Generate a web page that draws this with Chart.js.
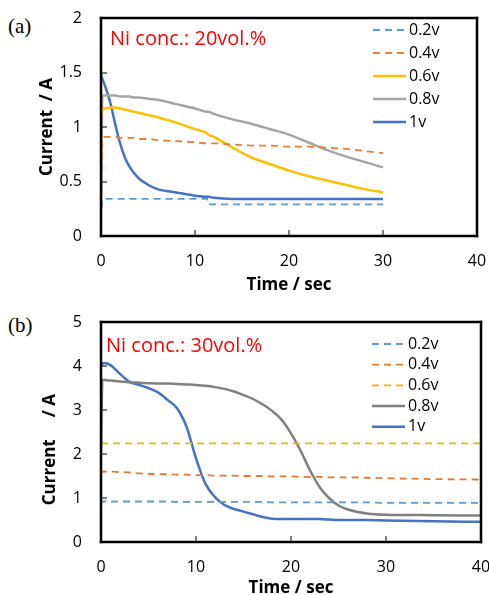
<!DOCTYPE html>
<html>
<head>
<meta charset="utf-8">
<script src="https://cdn.jsdelivr.net/npm/chart.js@4.4.1/dist/chart.umd.min.js"></script>
<style>
  html, body { margin: 0; padding: 0; background: #ffffff; overflow: hidden; width: 489px; height: 595px; }
  canvas { position: absolute; left: 0; }
  #chartA { top: 0; }
  #chartB { top: 298px; }
  .tag { position: absolute; left: 8px; font: 21px "Liberation Serif", serif; line-height: 22px; color: #000000; }
</style>
</head>
<body>
<div class="tag" style="top:15px">(a)</div>
<div class="tag" style="top:314px">(b)</div>
<canvas id="chartA" width="489" height="295"></canvas>
<canvas id="chartB" width="489" height="300"></canvas>
<script>
Chart.defaults.font.family = '"Open Sans", sans-serif';
Chart.defaults.color = "#000000";

const ink = "#000000";
const seriesNames = ["0.2v", "0.4v", "0.6v", "0.8v", "1v"];

// (a) Ni 20vol.%
const timeA = [0, 0.15, 0.5, 1, 1.5, 2, 2.5, 3, 3.5, 4, 5, 6, 8, 10, 11.3, 11.4, 12, 14, 16, 18, 20, 22, 24, 26, 28, 30];
const v02a = [0.15, 0.34, 0.34, 0.34, 0.34, 0.34, 0.34, 0.34, 0.34, 0.34, 0.34, 0.34, 0.34, 0.34, 0.34, 0.29, 0.29, 0.29, 0.29, 0.29, 0.29, 0.29, 0.29, 0.29, 0.29, 0.29];
const v04a = [0.15, 0.91, 0.91, 0.91, 0.91, 0.90, 0.90, 0.90, 0.90, 0.89, 0.89, 0.88, 0.87, 0.86, 0.85, 0.85, 0.85, 0.84, 0.83, 0.83, 0.82, 0.82, 0.81, 0.80, 0.78, 0.76];
const v06a = [1.10, 1.16, 1.17, 1.18, 1.18, 1.17, 1.16, 1.15, 1.14, 1.13, 1.11, 1.09, 1.04, 0.98, 0.94, 0.93, 0.91, 0.81, 0.72, 0.66, 0.60, 0.55, 0.51, 0.47, 0.43, 0.40];
const v08a = [0.30, 1.29, 1.29, 1.29, 1.29, 1.28, 1.28, 1.28, 1.27, 1.27, 1.26, 1.25, 1.21, 1.17, 1.14, 1.14, 1.12, 1.07, 1.03, 0.98, 0.93, 0.86, 0.79, 0.73, 0.68, 0.63];
const v1a  = [1.48, 1.44, 1.36, 1.22, 1.03, 0.86, 0.73, 0.64, 0.58, 0.53, 0.47, 0.43, 0.40, 0.37, 0.36, 0.36, 0.35, 0.34, 0.34, 0.34, 0.34, 0.34, 0.34, 0.34, 0.34, 0.34];

// (b) Ni 30vol.%
const timeB = [0, 0.15, 0.5, 1, 2, 3, 4, 5, 6, 7, 8, 9, 10, 11, 12, 13, 14, 15, 16, 17, 18, 19, 20, 21, 22, 23, 24, 25, 26, 28, 30, 35, 40];
const v02b = [0.85, 0.92, 0.92, 0.92, 0.92, 0.92, 0.92, 0.92, 0.92, 0.92, 0.91, 0.91, 0.91, 0.91, 0.91, 0.91, 0.91, 0.91, 0.91, 0.91, 0.90, 0.90, 0.90, 0.90, 0.90, 0.90, 0.90, 0.90, 0.90, 0.90, 0.89, 0.89, 0.89];
const v04b = [1.55, 1.60, 1.60, 1.60, 1.59, 1.58, 1.56, 1.55, 1.54, 1.54, 1.53, 1.53, 1.52, 1.52, 1.51, 1.51, 1.51, 1.50, 1.50, 1.50, 1.49, 1.49, 1.49, 1.48, 1.48, 1.48, 1.47, 1.47, 1.47, 1.46, 1.45, 1.43, 1.42];
const v06b = [2.24, 2.24, 2.24, 2.24, 2.24, 2.24, 2.24, 2.24, 2.24, 2.24, 2.24, 2.24, 2.24, 2.24, 2.24, 2.24, 2.24, 2.24, 2.24, 2.24, 2.24, 2.24, 2.24, 2.24, 2.24, 2.24, 2.24, 2.24, 2.24, 2.24, 2.24, 2.24, 2.24];
const v08b = [2.05, 3.69, 3.68, 3.67, 3.65, 3.63, 3.62, 3.61, 3.60, 3.60, 3.59, 3.58, 3.57, 3.55, 3.52, 3.48, 3.42, 3.34, 3.25, 3.13, 2.98, 2.78, 2.47, 2.08, 1.63, 1.25, 1.00, 0.83, 0.74, 0.65, 0.62, 0.61, 0.60];
const v1b  = [4.00, 4.06, 4.06, 4.02, 3.82, 3.64, 3.57, 3.50, 3.40, 3.23, 3.04, 2.62, 1.90, 1.32, 1.02, 0.84, 0.75, 0.69, 0.63, 0.57, 0.53, 0.52, 0.52, 0.52, 0.52, 0.52, 0.51, 0.50, 0.50, 0.50, 0.49, 0.47, 0.46];

const xTicks = [0, 10, 20, 30, 40];

// box round the plot + inner tick marks, legend and red note
const panelDecor = {
  id: "panelDecor",
  afterDraw(chart, args, opts) {
    const { ctx, chartArea: a, scales } = chart;
    const w = 2.5;
    ctx.save();
    ctx.fillStyle = ink;
    ctx.fillRect(a.left - w / 2, a.top - w / 2, a.right - a.left + w, w);
    ctx.fillRect(a.left - w / 2, a.bottom - w / 2, a.right - a.left + w, w);
    ctx.fillRect(a.left - w / 2, a.top - w / 2, w, a.bottom - a.top + w);
    ctx.fillRect(a.right - w / 2, a.top - w / 2, w, a.bottom - a.top + w);
    scales.x.ticks.forEach(t => {
      const px = Math.round(scales.x.getPixelForValue(t.value));
      ctx.fillRect(px - 0.5, a.bottom - 6, 1, 6);
    });
    scales.y.ticks.forEach(t => {
      const py = Math.round(scales.y.getPixelForValue(t.value));
      ctx.fillRect(a.left, py - 0.5, 6, 1);
    });

    ctx.textBaseline = "middle";
    ctx.textAlign = "left";
    ctx.font = '16px "Open Sans"';
    chart.data.datasets.forEach((ds, i) => {
      const y = opts.y + i * opts.gap;
      ctx.beginPath();
      ctx.setLineDash(ds.borderDash || []);
      ctx.strokeStyle = ds.borderColor;
      ctx.lineWidth = ds.borderWidth;
      ctx.moveTo(opts.x, y);
      ctx.lineTo(opts.x + 33, y);
      ctx.stroke();
      ctx.fillStyle = ink;
      ctx.fillText(ds.label, opts.x + 36, y);
    });
    ctx.fillStyle = "#ff0000";
    ctx.font = '20px "Open Sans"';
    ctx.fillText(opts.note, opts.noteX, opts.noteY);
    ctx.restore();
  }
};

function line(label, data, color, dashed) {
  return {
    label, data,
    borderColor: color,
    borderWidth: dashed ? 1.8 : 2.5,
    borderDash: dashed ? [7, 5] : [],
    pointRadius: 0,
    fill: false,
    cubicInterpolationMode: "monotone"
  };
}

function makeOptions(yMax, pad, xh, yTitle, yTitlePad, decor) {
  return {
    responsive: false,
    animation: false,
    layout: { padding: { left: 0, right: pad.right, top: pad.top, bottom: 0 } },
    plugins: {
      legend: { display: false },
      tooltip: { enabled: false },
      panelDecor: decor
    },
    scales: {
      x: {
        type: "linear", min: 0, max: 40,
        afterBuildTicks: s => { s.ticks = xTicks.map(v => ({ value: v })); },
        ticks: { padding: 16, font: { size: 16 }, color: ink },
        grid: { display: false, drawTicks: false, tickLength: 0 },
        border: { display: false },
        title: { display: true, text: "Time / sec", color: ink, font: { size: 17, weight: "bold" }, padding: 0 },
        afterFit: s => { s.height = xh; s.paddingLeft = 0; s.paddingRight = 0; }
      },
      y: {
        min: 0, max: yMax,
        ticks: { stepSize: yMax === 2 ? 0.5 : 1, padding: 19, font: { size: 16 }, color: ink, callback: v => String(v) },
        grid: { display: false, drawTicks: false, tickLength: 0 },
        border: { display: false },
        title: { display: true, text: yTitle, color: ink, font: { size: 17, weight: "bold" }, padding: { top: yTitlePad, bottom: 0 } },
        afterFit: s => { s.width = 101; s.paddingTop = 0; s.paddingBottom = 0; }
      }
    }
  };
}

new Chart(document.getElementById("chartA"), {
  type: "line",
  data: {
    labels: timeA,
    datasets: [
      line(seriesNames[0], v02a, "#5b9bd5", true),
      line(seriesNames[1], v04a, "#ed7d31", true),
      line(seriesNames[2], v06a, "#ffc000", false),
      line(seriesNames[3], v08a, "#a5a5a5", false),
      line(seriesNames[4], v1a, "#4472c4", false)
    ]
  },
  options: makeOptions(2, { right: 12, top: 18 }, 59, "Current  / A", 37,
    { x: 373, y: 30, gap: 23, note: "Ni conc.: 20vol.%", noteX: 110, noteY: 39 }),
  plugins: [panelDecor]
});

new Chart(document.getElementById("chartB"), {
  type: "line",
  data: {
    labels: timeB,
    datasets: [
      line(seriesNames[0], v02b, "#5b9bd5", true),
      line(seriesNames[1], v04b, "#e07a35", true),
      line(seriesNames[2], v06b, "#f2b800", true),
      line(seriesNames[3], v08b, "#808080", false),
      line(seriesNames[4], v1b, "#4472c4", false)
    ]
  },
  options: makeOptions(5, { right: 8, top: 24 }, 56, "Current     / A        ", 40,
    { x: 372, y: 46, gap: 20.7, note: "Ni conc.: 30vol.%", noteX: 106, noteY: 48 }),
  plugins: [panelDecor]
});
</script>
</body>
</html>
